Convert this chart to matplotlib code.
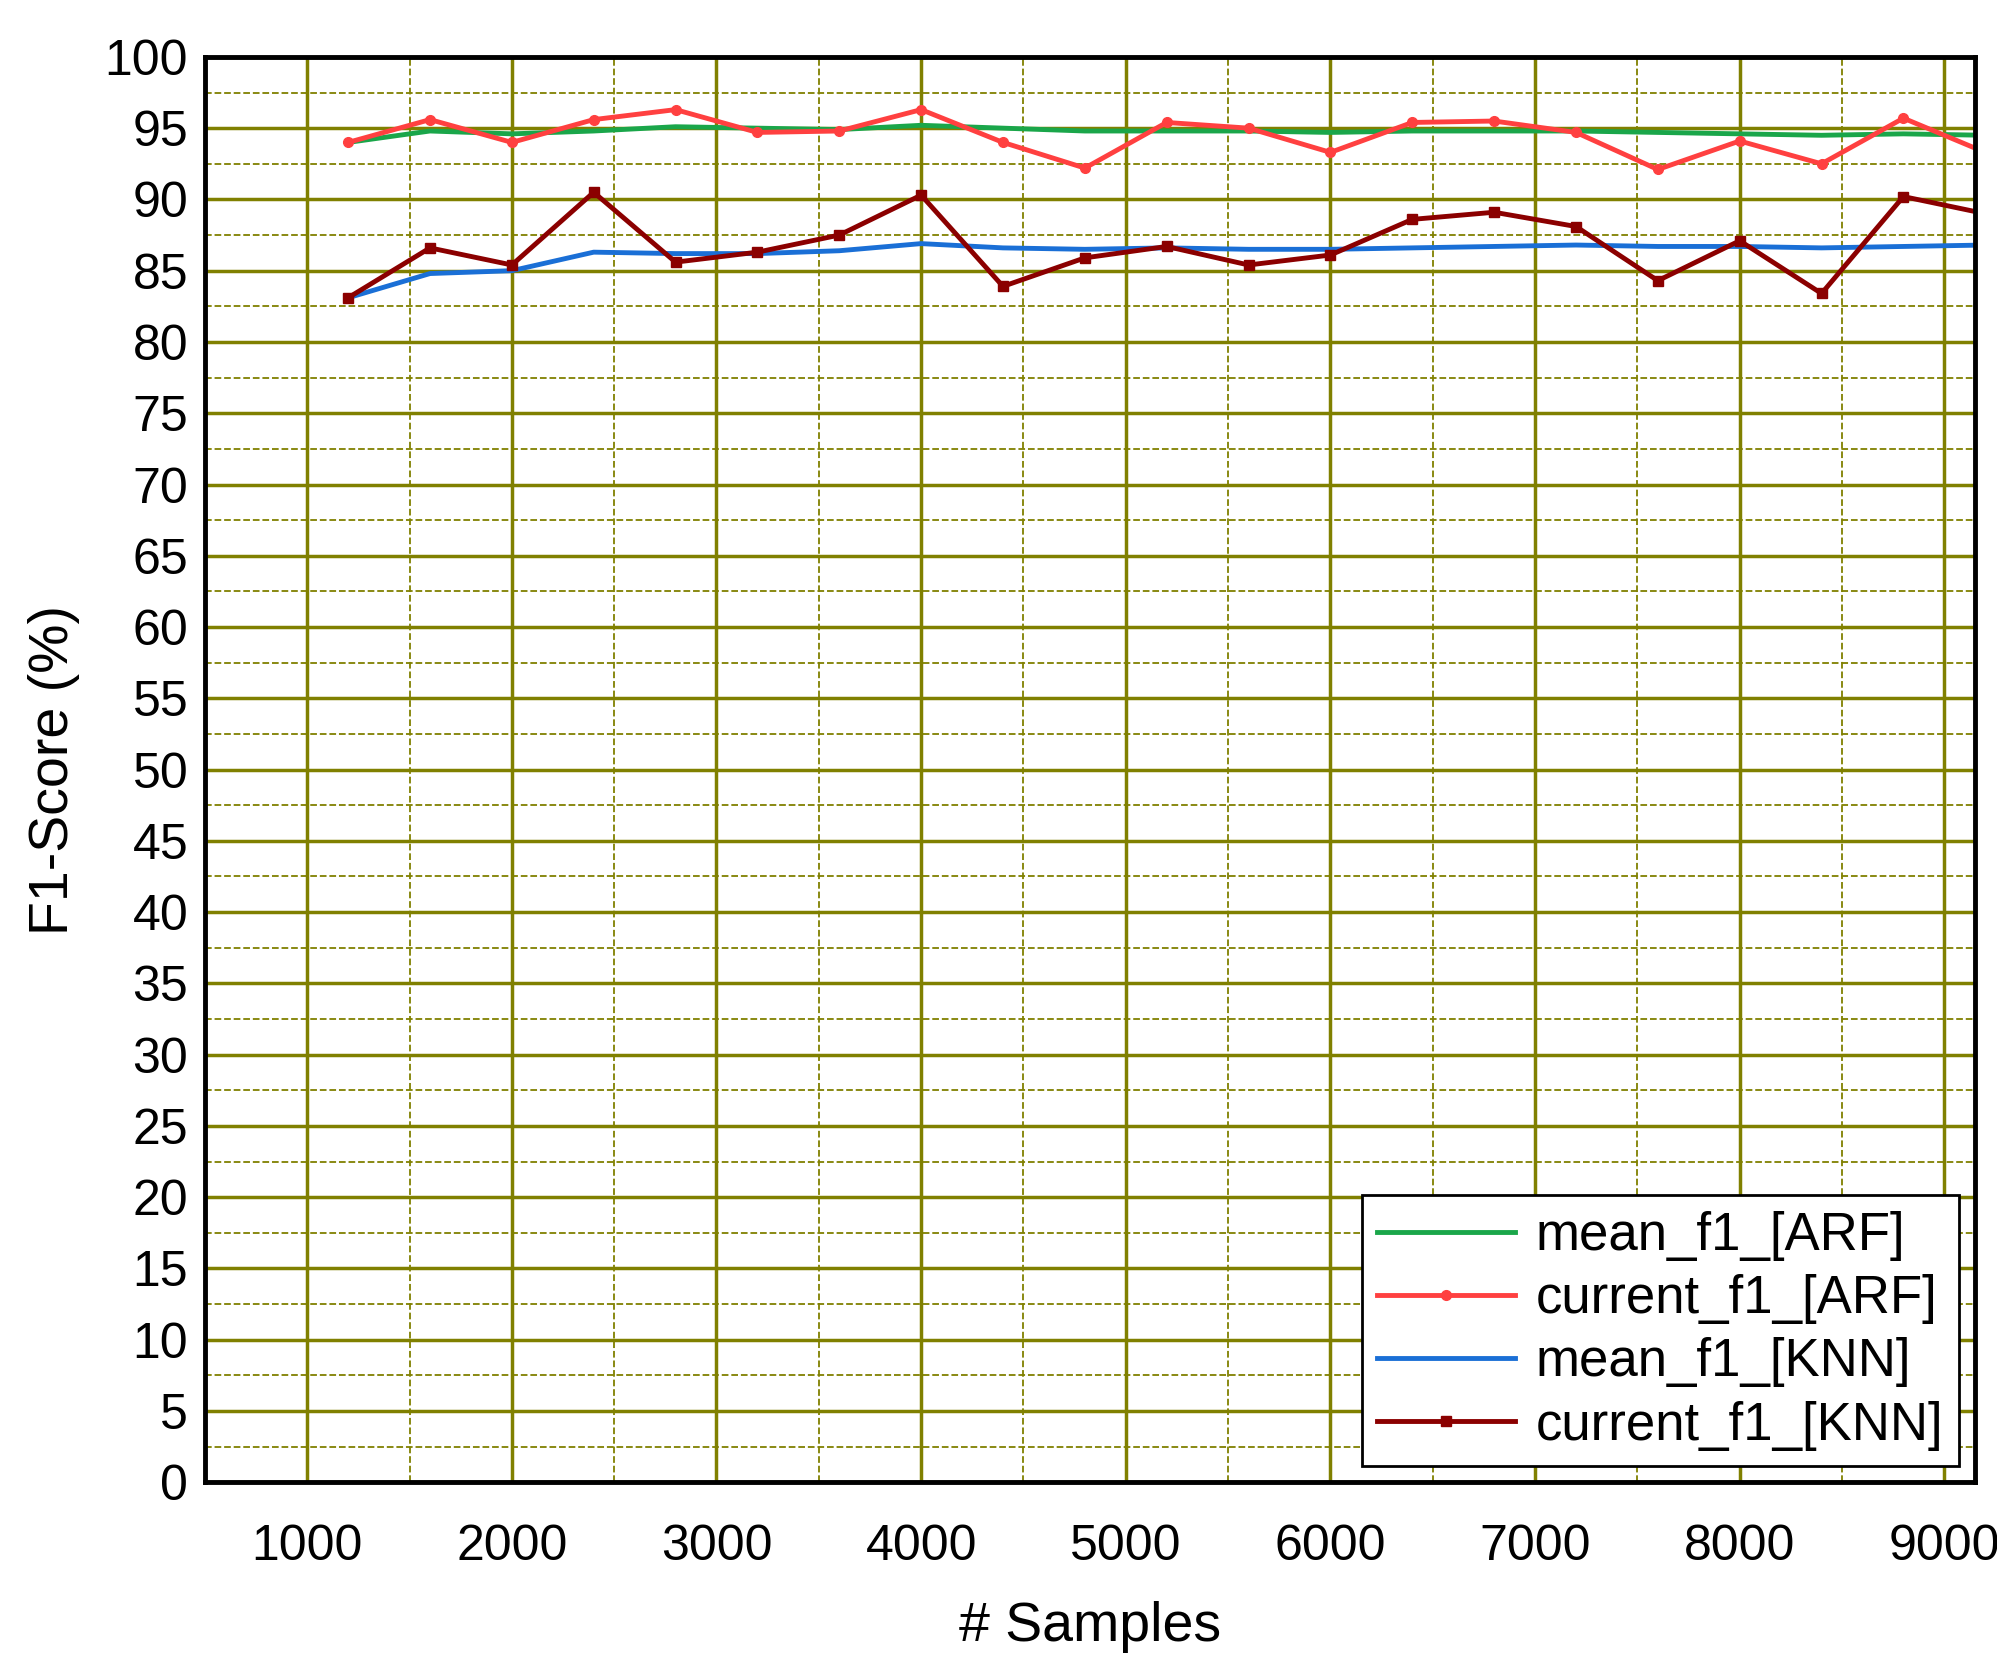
import matplotlib
matplotlib.use("Agg")
import matplotlib.pyplot as plt
from matplotlib.ticker import MultipleLocator

plt.rcParams['font.family'] = ['Liberation Sans', 'DejaVu Sans']

samples = list(range(1200, 9201, 400))
mean_arf = [94.0, 94.8, 94.6, 94.8, 95.1, 95.0, 94.9, 95.2, 95.0, 94.8, 94.8, 94.8, 94.7, 94.8, 94.8, 94.8, 94.7, 94.6, 94.5, 94.6, 94.5]
cur_arf = [94.0, 95.6, 94.0, 95.6, 96.3, 94.7, 94.8, 96.3, 94.0, 92.2, 95.4, 95.0, 93.3, 95.4, 95.5, 94.7, 92.1, 94.1, 92.5, 95.7, 93.3]
mean_knn = [83.1, 84.8, 85.0, 86.3, 86.2, 86.2, 86.4, 86.9, 86.6, 86.5, 86.6, 86.5, 86.5, 86.6, 86.7, 86.8, 86.7, 86.7, 86.6, 86.7, 86.8]
cur_knn = [83.1, 86.6, 85.4, 90.5, 85.6, 86.3, 87.5, 90.3, 83.9, 85.9, 86.7, 85.4, 86.1, 88.6, 89.1, 88.1, 84.3, 87.1, 83.4, 90.2, 89.0]

fig = plt.figure(figsize=(19.97, 16.73), dpi=100)
ax = fig.add_axes([0.1026, 0.114, 0.8864, 0.852])
ax.plot(samples, mean_arf, color='#1aa64a', lw=3.5, label='mean_f1_[ARF]')
ax.plot(samples, cur_arf, color='#ff4040', lw=3.5, marker='o', ms=7, label='current_f1_[ARF]')
ax.plot(samples, mean_knn, color='#1a6fd6', lw=3.5, label='mean_f1_[KNN]')
ax.plot(samples, cur_knn, color='#8b0000', lw=3.5, marker='s', ms=7, label='current_f1_[KNN]')
ax.set_xlim(500, 9150)
ax.set_ylim(0, 100)
ax.xaxis.set_major_locator(MultipleLocator(1000))
ax.xaxis.set_minor_locator(MultipleLocator(500))
ax.yaxis.set_major_locator(MultipleLocator(5))
ax.yaxis.set_minor_locator(MultipleLocator(2.5))
ax.grid(which='major', color='#808000', lw=2.5)
ax.grid(which='minor', color='#808000', lw=1.3, ls='--')
ax.set_axisbelow(True)
ax.tick_params(which='both', length=0, labelsize=36, pad=12)
ax.tick_params(axis='x', pad=30)
for s in ax.spines.values():
    s.set_linewidth(3.5)
ax.set_xlabel('# Samples', fontsize=40, labelpad=22)
ax.set_ylabel('F1-Score (%)', fontsize=40, labelpad=18)
leg = ax.legend(loc='lower right', fontsize=38, fancybox=False, edgecolor='black',
                handlelength=2.6, handletextpad=0.4, labelspacing=0.25,
                borderaxespad=0.3, borderpad=0.3, framealpha=1)
leg.get_frame().set_linewidth(2)
fig.savefig('out.png', dpi=100)
